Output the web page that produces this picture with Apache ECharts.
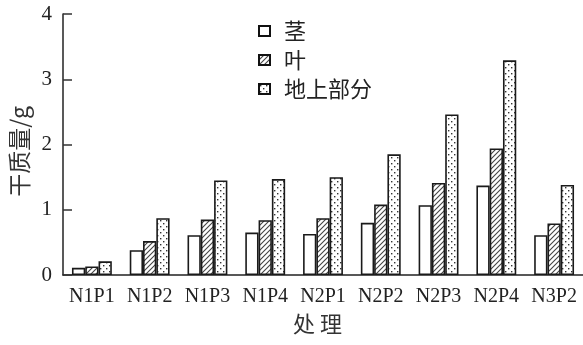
<!DOCTYPE html>
<html>
<head>
<meta charset="utf-8">
<script src="https://cdn.jsdelivr.net/npm/echarts@6/dist/echarts.min.js"></script>
<style>
  html, body { margin: 0; padding: 0; background: #fff; }
  #chart { width: 583px; height: 345px; }
</style>
</head>
<body>
<div id="chart"></div>
<script>
// Treatments and dry weight (g) of stem, leaf and above-ground part
const categories = ['N1P1', 'N1P2', 'N1P3', 'N1P4', 'N2P1', 'N2P2', 'N2P3', 'N2P4', 'N3P2'];
const seriesNames = ['茎', '叶', '地上部分'];
const stemValues = [0.11, 0.38, 0.61, 0.65, 0.63, 0.80, 1.07, 1.37, 0.61];
const leafValues = [0.13, 0.52, 0.85, 0.84, 0.87, 1.08, 1.41, 1.94, 0.79];
const totalValues = [0.21, 0.87, 1.45, 1.47, 1.50, 1.85, 2.46, 3.29, 1.38];
const yTicks = [0, 1, 2, 3, 4];

// Fill patterns: diagonal hatching and a dot screen
function hatchPattern() {
  const c = document.createElement('canvas');
  c.width = 5; c.height = 5;
  const g = c.getContext('2d');
  g.fillStyle = '#fff'; g.fillRect(0, 0, 5, 5);
  g.strokeStyle = '#444'; g.lineWidth = 1.1;
  g.beginPath();
  g.moveTo(-1, 6); g.lineTo(6, -1);
  g.moveTo(-1, 1); g.lineTo(1, -1);
  g.moveTo(4, 6); g.lineTo(6, 4);
  g.stroke();
  return c;
}
function dotPattern() {
  const c = document.createElement('canvas');
  c.width = 6; c.height = 6;
  const g = c.getContext('2d');
  g.fillStyle = '#fff'; g.fillRect(0, 0, 6, 6);
  g.fillStyle = '#333';
  g.fillRect(1, 1, 1.4, 1.4);
  g.fillRect(4, 4, 1.4, 1.4);
  return c;
}

const serif = '"Liberation Serif", "DejaVu Serif", serif';
const cjk = '"Noto Sans CJK SC", sans-serif';
const fills = ['#ffffff', { image: hatchPattern(), repeat: 'repeat' }, { image: dotPattern(), repeat: 'repeat' }];
const dataSets = [stemValues, leafValues, totalValues];

const chart = echarts.init(document.getElementById('chart'), null, { renderer: 'canvas' });
chart.setOption({
  animation: false,
  backgroundColor: '#fff',
  grid: { left: 63, right: 0, top: 14, bottom: 70, containLabel: false },
  legend: {
    orient: 'vertical',
    left: 258, top: 19,
    padding: 0,
    itemWidth: 11, itemHeight: 10,
    itemGap: 5,
    icon: 'rect',
    itemStyle: { borderColor: '#111', borderWidth: 2 },
    textStyle: { fontFamily: cjk, fontSize: 22, lineHeight: 24, color: '#222', padding: [0, 0, 0, 9] },
    data: seriesNames
  },
  xAxis: {
    type: 'category',
    data: categories,
    axisLine: { lineStyle: { color: '#222', width: 1.5 } },
    axisTick: { show: false },
    axisLabel: { interval: 0, fontFamily: serif, fontSize: 20, color: '#222', margin: 12 },
  },
  yAxis: {
    type: 'value',
    min: yTicks[0], max: yTicks[yTicks.length - 1], interval: 1,
    axisLine: { show: true, lineStyle: { color: '#222', width: 1.5 } },
    axisTick: { show: true, inside: true, length: 9, lineStyle: { color: '#333', width: 1.5 } },
    axisLabel: { fontFamily: serif, fontSize: 21, color: '#222', margin: 11 },
    splitLine: { show: false }
  },
  graphic: [
    {
      type: 'text', left: 8, top: 106, rotation: Math.PI / 2,
      style: { text: '干质量/g', fontFamily: cjk, fontSize: 23, fill: '#333' }
    },
    {
      type: 'text', left: 293, top: 313,
      style: { text: '处 理', fontFamily: cjk, fontSize: 22, fill: '#333' }
    }
  ],
  series: dataSets.map((vals, i) => ({
    name: seriesNames[i],
    type: 'bar',
    data: vals,
    barGap: '0%',
    barCategoryGap: '31%',
    itemStyle: { color: fills[i], borderColor: '#1a1a1a', borderWidth: 1.6 }
  }))
});
</script>
</body>
</html>
